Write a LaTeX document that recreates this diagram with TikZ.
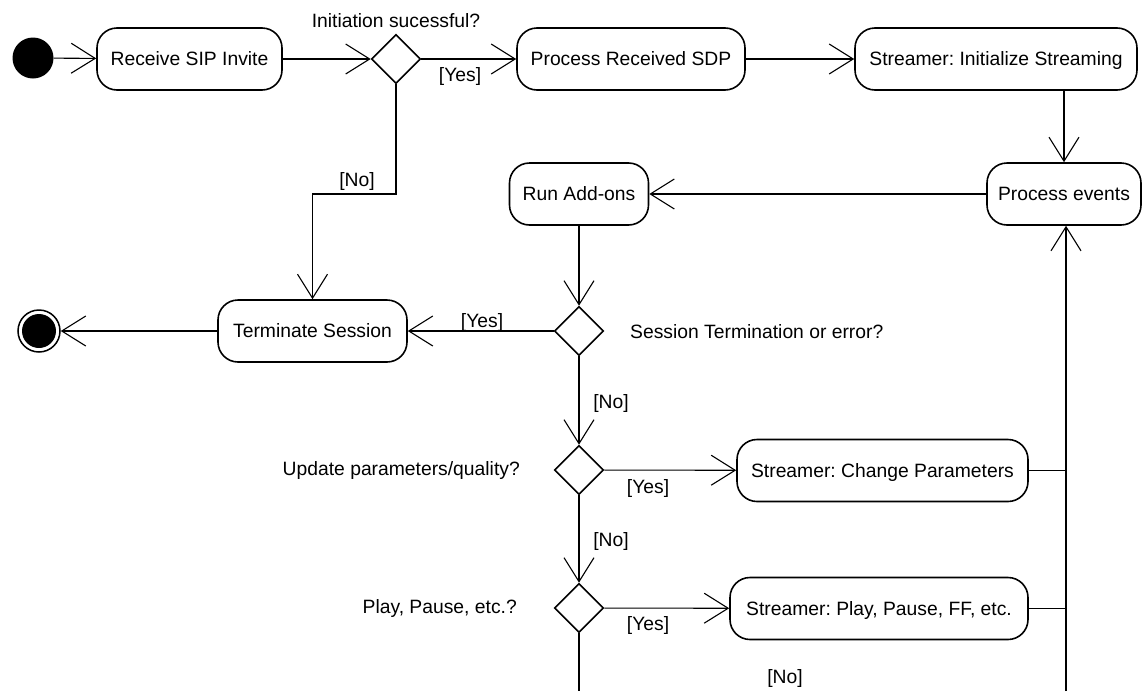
\documentclass[tikz,border=0pt]{standalone}
\usepackage{fontspec}
\setmainfont{Liberation Sans}
\usetikzlibrary{arrows.meta,shapes.geometric}
\frenchspacing

\begin{document}
\begin{tikzpicture}[x=1pt,y=-1pt,
  every node/.style={font=\fontsize{19.3}{23}\selectfont, text height=13.8pt, text depth=0pt, inner sep=0pt},
  action/.style={draw, line width=1.6pt, rounded corners=20pt, minimum height=62pt},
  decision/.style={draw, diamond, line width=1.6pt, minimum width=49pt, minimum height=49pt, text height=0pt},
  flow/.style={line width=1.1pt, -{Straight Barb[length=24pt,width=30pt,line width=1.1pt]}},
  plain/.style={line width=1.1pt},
]
\useasboundingbox (0,0) rectangle (1146,691);

% start and end states
\node[circle, fill=black, minimum size=41pt, text height=0pt] (start) at (33,58) {};
\node[circle, draw, line width=1.5pt, minimum size=42pt, text height=0pt] (final) at (39,331) {};
\node[circle, fill=black, minimum size=34pt, text height=0pt] (finalcore) at (final) {};

% actions
\node[action, minimum width=185pt] (recv)   at (189.5,59) {Receive SIP Invite};
\node[action, minimum width=228pt] (sdp)    at (631,59)   {Process Received SDP};
\node[action, minimum width=282pt] (init)   at (996,59)   {Streamer: Initialize Streaming};
\node[action, minimum width=154pt] (events) at (1064,194) {Process events};
\node[action, minimum width=139pt] (addons) at (579,194)  {Run Add-ons};
\node[action, minimum width=189pt] (term)   at (312.5,331) {Terminate Session};
\node[action, minimum width=291pt] (change) at (882.5,470.5) {Streamer: Change Parameters};
\node[action, minimum width=298pt] (play)   at (879,608.5) {Streamer: Play, Pause, FF, etc.};

% decisions
\node[decision] (d1) at (396,59)  {};
\node[decision] (d2) at (579,331) {};
\node[decision] (d3) at (579,470) {};
\node[decision] (d4) at (579,608) {};

% decision questions
\node at (396,21) {Initiation sucessful?};
\node[anchor=west] (q2) at (630,332) {Session Termination or error?};
\node[anchor=east] (q3) at (520,469) {Update parameters/quality?};
\node[anchor=east] (q4) at (517,607) {Play, Pause, etc.?};

% helper coordinates
\coordinate (bend) at (396,194);
\coordinate (dbot) at (579,691);
\coordinate (rbot) at (1066,691);

% flow
\draw[flow] (start) -- (recv);
\draw[flow] (recv) -- (d1);
\draw[flow] (d1) -- (sdp);
\draw[flow] (sdp) -- (init);
\draw[flow] (init.south -| events.north) -- (events.north);
\draw[flow] (events) -- (addons);
\draw[flow] (addons) -- (d2);
\draw[flow] (d2) -- (term);
\draw[flow] (term) -- (final);
\draw[flow] (d1.south) -- (bend) -| (term.north);
\draw[flow] (d2) -- (d3);
\draw[flow] (d3) -- (change);
\draw[flow] (d3) -- (d4);
\draw[flow] (d4) -- (play);
\draw[plain] (d4.south) -- (dbot);
\draw[flow] (rbot) -- (rbot |- events.south);
\draw[plain] (change.east) -- (change.east -| rbot);
\draw[plain] (play.east) -- (play.east -| rbot);

% guards
\node (g1) at (460,75)  {[Yes]};
\node (g2) at (357,180) {[No]};
\node (g3) at (482,321) {[Yes]};
\node (g4) at (611,402) {[No]};
\node (g5) at (648,487) {[Yes]};
\node (g6) at (611,540) {[No]};
\node (g7) at (648,624) {[Yes]};
\node (g8) at (785,677) {[No]};
\end{tikzpicture}
\end{document}
